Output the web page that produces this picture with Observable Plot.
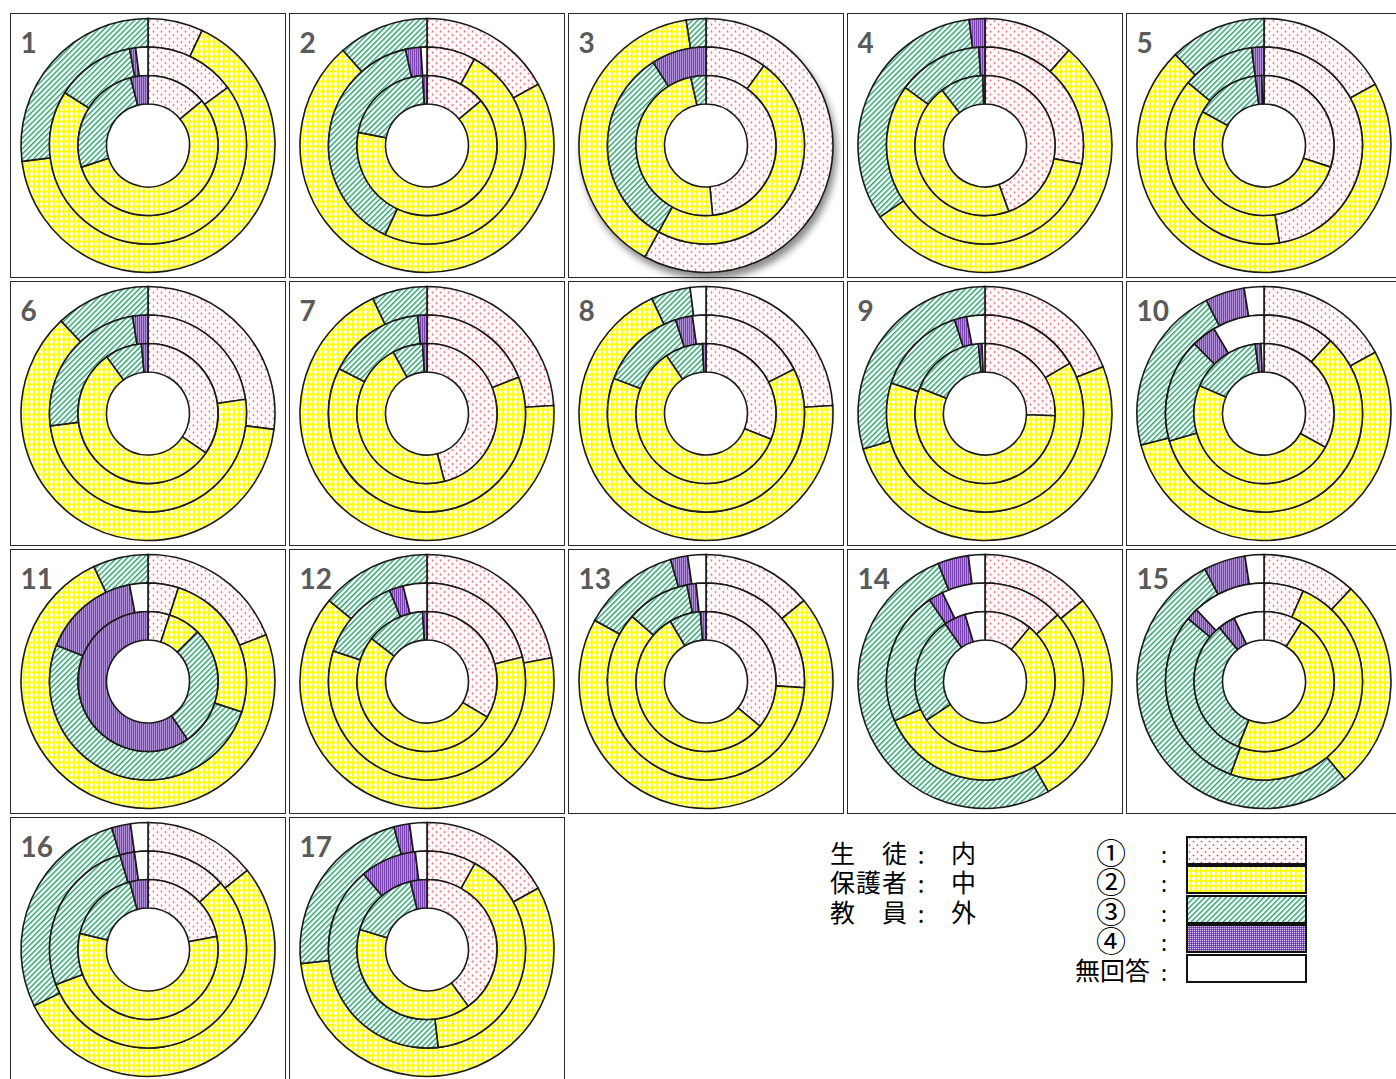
<!DOCTYPE html>
<html>
<head>
<meta charset="utf-8">
<script src="https://cdn.jsdelivr.net/npm/d3@7"></script>
<script src="https://cdn.jsdelivr.net/npm/@observablehq/plot@0.6"></script>
<style>
html, body { margin: 0; padding: 0; background: #fff; }
body { width: 1396px; height: 1079px; overflow: hidden; position: relative; }
.panel { position: absolute; width: 276px; height: 265px; }
.panel svg { position: absolute; left: 0; top: 0; }
.frame { position: absolute; left: 0; top: 0; width: 276px; height: 265px; box-sizing: border-box; border: 1.5px solid #2a2a2a; pointer-events: none; }
</style>
</head>
<body>
<svg width="0" height="0" style="position:absolute">
  <defs>
    <pattern id="pat1" patternUnits="userSpaceOnUse" width="8" height="7">
      <rect width="8" height="7" fill="#fffafa"/>
      <circle cx="1.5" cy="1.5" r="0.85" fill="#e8324a"/>
      <circle cx="5.5" cy="5" r="0.85" fill="#e8324a"/>
    </pattern>
    <pattern id="pat2" patternUnits="userSpaceOnUse" width="5" height="5">
      <rect width="5" height="5" fill="#ffff00"/>
      <rect x="1.8" y="1.8" width="3.2" height="3.2" fill="#ffffff"/>
    </pattern>
    <pattern id="pat3" patternUnits="userSpaceOnUse" width="3.8" height="3.8" patternTransform="rotate(45)">
      <rect width="3.8" height="3.8" fill="#f6fcf9"/>
      <rect width="1.4" height="3.8" fill="#2f9e6e"/>
    </pattern>
    <pattern id="pat4" patternUnits="userSpaceOnUse" width="2" height="2">
      <rect width="2" height="2" fill="#8a58c2"/>
      <rect width="1" height="1" fill="#d6c6ee"/>
      <rect x="1" y="1" width="1" height="1" fill="#6a2da0"/>
    </pattern>
    <filter id="shadow" x="-20%" y="-20%" width="140%" height="150%">
      <feDropShadow dx="3" dy="6" stdDeviation="3.5" flood-color="#000" flood-opacity="0.45"/>
    </filter>
  </defs>
</svg>
<script>
// ---- data ----
const categories = ["①", "②", "③", "④", "無回答"];
const rings = ["生徒", "保護者", "教員"];          // inner, middle, outer
const ringPositions = ["内", "中", "外"];
const chartLabels = ["1","2","3","4","5","6","7","8","9","10","11","12","13","14","15","16","17"];

// percentages per chart: [①, ②, ③, ④, 無回答]
const student = [
  [14, 56, 26, 4, 0],
  [14, 64, 21, 1, 0],
  [48.5, 48, 3.5, 0, 0],
  [44.5, 45, 10, 0.5, 0],
  [30, 53, 15, 1.5, 0.5],
  [34.5, 55.5, 8.5, 1.5, 0],
  [46, 46, 7, 1, 0],
  [31, 59.5, 8.7, 0.8, 0],
  [25.5, 55.5, 17.5, 0.8, 0.7],
  [33, 48.5, 16.5, 1.3, 0.7],
  [5, 7.5, 28, 59.5, 0],
  [33.5, 52, 13.5, 1, 0],
  [36, 55.5, 7.2, 1.3, 0],
  [11, 54.7, 24.7, 5, 4.6],
  [9, 47, 33, 4, 7],
  [22, 56.7, 17.1, 4.2, 0],
  [40, 39.6, 16.6, 3.8, 0]
];
const parent = [
  [15, 69, 13, 1, 2],
  [8, 49, 39.5, 2.5, 1],
  [10, 48, 33, 9, 0],
  [28, 57, 14, 1, 0],
  [47.5, 38.5, 12, 2, 0],
  [22.7, 50.3, 24.5, 2.5, 0],
  [19, 63.5, 16, 1.5, 0],
  [17.6, 63.2, 14.2, 2.8, 2.2],
  [16.5, 63.5, 15, 2, 3],
  [11.8, 58.7, 17, 4, 8.5],
  [5, 25, 51, 16, 3],
  [21, 59, 13.8, 2.3, 3.9],
  [26, 60.5, 10.4, 1.5, 1.6],
  [13.2, 55.3, 22, 2.4, 7.1],
  [6.5, 49, 30.5, 2, 12],
  [13.2, 56, 26.2, 2.4, 2.2],
  [8.1, 40.1, 40.7, 9.2, 1.9]
];
const teacher = [
  [7, 66, 27, 0, 0],
  [17, 71.5, 11.5, 0, 0],
  [58, 39.5, 2.5, 0, 0],
  [11.5, 54, 32.5, 2, 0],
  [17, 70.7, 12.3, 0, 0],
  [27, 61, 12, 0, 0],
  [24, 69, 7, 0, 0],
  [24, 69, 5, 0, 2],
  [19, 51.5, 29.5, 0, 0],
  [17, 54, 21.5, 5, 2.5],
  [19, 74, 7, 0, 0],
  [22, 64, 14, 0, 0],
  [14, 69, 12.5, 2.2, 2.3],
  [14, 27.7, 52.3, 3.9, 2.1],
  [12, 27, 53.3, 5.3, 2.4],
  [14.3, 53.4, 27.7, 2.4, 2.2],
  [17, 56.3, 22.6, 2, 2.2]
];

// ---- styles ----
const patternFills = ["url(#pat1)", "url(#pat2)", "url(#pat3)", "url(#pat4)", "#ffffff"];
const shadowChart = "3";   // chart whose outer ring carries a drop shadow

function ringRows(k) {
  const rows = [];
  [student, parent, teacher].forEach((series, ri) => {
    const vals = series[k];
    const total = d3.sum(vals);
    let acc = 0;
    vals.forEach((v, ci) => {
      if (v > 0) rows.push({ring: rings[ri], ri, cat: categories[ci], start: acc / total * 100, end: (acc + v) / total * 100});
      acc += v;
    });
  });
  return rows;
}

function makeArcRender(rows, withShadow) {
  return function (index, scales, values, dimensions, context) {
    const ns = "http://www.w3.org/2000/svg";
    const doc = context.document;
    const g = doc.createElementNS(ns, "g");
    g.setAttribute("transform", `translate(${dimensions.width / 2},${dimensions.height / 2})`);
    const arc = d3.arc();
    const order = Array.from(index).sort((a, b) => rows[b].ri - rows[a].ri); // outer ring first
    const groups = {};
    for (const i of order) {
      const ri = rows[i].ri;
      if (!groups[ri]) {
        groups[ri] = doc.createElementNS(ns, "g");
        if (withShadow && ri === 2) groups[ri].setAttribute("filter", "url(#shadow)");
        g.appendChild(groups[ri]);
      }
      const p = doc.createElementNS(ns, "path");
      p.setAttribute("d", arc({
        innerRadius: values.y1[i], outerRadius: values.y2[i],
        startAngle: values.x1[i], endAngle: values.x2[i]
      }));
      p.setAttribute("fill", values.fill[i]);
      p.setAttribute("stroke", "#1a1a1a");
      p.setAttribute("stroke-width", "1.6");
      p.setAttribute("stroke-linejoin", "miter");
      groups[ri].appendChild(p);
    }
    return g;
  };
}

chartLabels.forEach((lab, k) => {
  const col = k % 5, row = Math.floor(k / 5);
  const panel = document.createElement("div");
  panel.className = "panel";
  panel.style.left = (10 + col * 279) + "px";
  panel.style.top = (13 + row * 268) + "px";
  const rows = ringRows(k);
  const chart = Plot.plot({
    width: 276, height: 265, margin: 0,
    style: {background: "transparent", overflow: "visible"},
    x: {domain: [0, 100], range: [0, 2 * Math.PI], axis: null},
    y: {domain: [0, 3], range: [41.5, 127], axis: null},
    color: {domain: categories, range: patternFills},
    marks: [
      Plot.rect(rows, {
        x1: "start", x2: "end",
        y1: d => d.ri, y2: d => d.ri + 1,
        fill: "cat",
        render: makeArcRender(rows, lab === shadowChart)
      }),
      Plot.text([lab], {
        text: d => d, frameAnchor: "top-left", dx: 10, dy: 31,
        lineAnchor: "middle", textAnchor: "start",
        fontSize: 28, fontWeight: "bold", fill: "#5a5a5a",
        fontFamily: "Lato, 'Open Sans', sans-serif"
      })
    ]
  });
  panel.appendChild(chart);
  const frame = document.createElement("div");
  frame.className = "frame";
  panel.appendChild(frame);
  document.body.appendChild(panel);
});

// ---- legend ----
const leg = d3.select("body").append("svg")
  .attr("width", 1396).attr("height", 1079)
  .style("position", "absolute").style("left", 0).style("top", 0)
  .style("pointer-events", "none")
  .style("font-family", "'Noto Sans CJK JP', sans-serif");

const leftRowsY = [852, 881, 911];
rings.forEach((name, i) => {
  const y = leftRowsY[i];
  leg.append("text").attr("x", 830).attr("y", y)
    .attr("dominant-baseline", "central").attr("font-size", 25)
    .attr("textLength", 77).attr("lengthAdjust", "spacing")
    .text(name);
  leg.append("text").attr("x", 921).attr("y", y + 1)
    .attr("text-anchor", "middle").attr("dominant-baseline", "central").attr("font-size", 24)
    .text(":");
  leg.append("text").attr("x", 951).attr("y", y)
    .attr("dominant-baseline", "central").attr("font-size", 25)
    .text(ringPositions[i]);
});

const boxTops = [837, 866, 896, 925, 955];
categories.forEach((c, i) => {
  const y0 = boxTops[i];
  const cy = y0 + 13.5;
  if (c.length === 1) {
    leg.append("text").attr("x", 1111).attr("y", cy)
      .attr("text-anchor", "middle").attr("dominant-baseline", "central").attr("font-size", 30)
      .text(c);
  } else {
    leg.append("text").attr("x", 1150).attr("y", cy)
      .attr("text-anchor", "end").attr("dominant-baseline", "central").attr("font-size", 25)
      .text(c);
  }
  leg.append("text").attr("x", 1164).attr("y", cy + 2)
    .attr("text-anchor", "middle").attr("dominant-baseline", "central").attr("font-size", 22)
    .text(":");
  leg.append("rect").attr("x", 1187).attr("y", y0).attr("width", 119).attr("height", 27)
    .attr("fill", patternFills[i]).attr("stroke", "#111").attr("stroke-width", 2);
});
</script>
</body>
</html>
